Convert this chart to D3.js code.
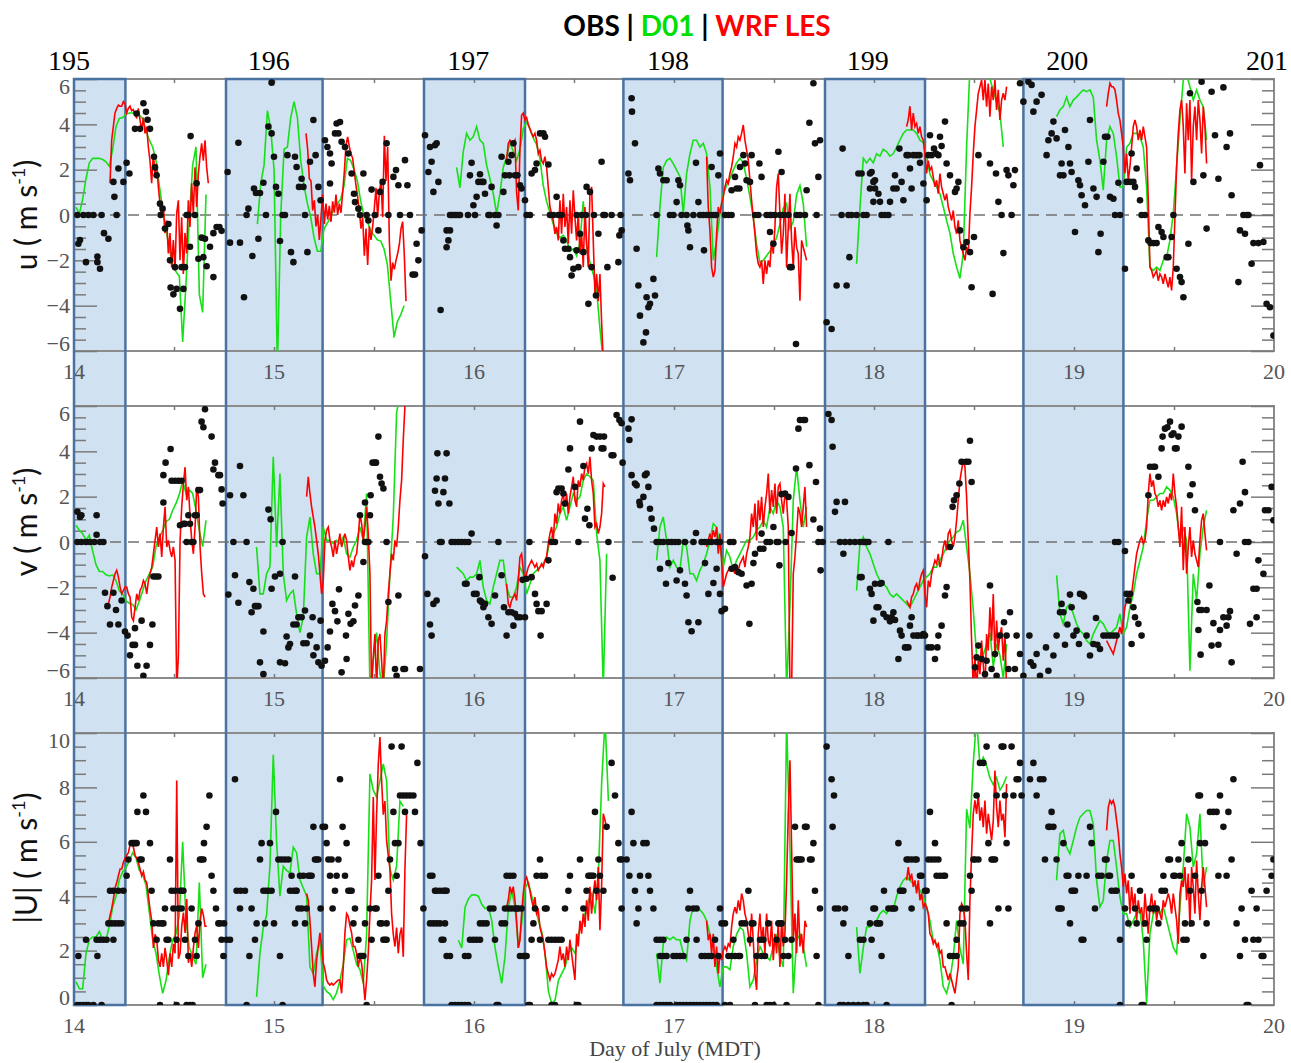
<!DOCTYPE html>
<html>
<head>
<meta charset="utf-8">
<script src="https://cdn.jsdelivr.net/npm/d3@7"></script>
<style>
  body { margin: 0; background: #fff; }
  svg text { font-family: "Liberation Serif", serif; }
</style>
</head>
<body>
<svg id="chart"></svg>
<script>
// ---- data -------------------------------------------------------------
// night periods (day of July, MDT)
var nights = [[14.0, 14.257], [14.76, 15.243], [15.75, 16.255], [16.747, 17.243], [17.755, 18.255], [18.747, 19.247]];
var dayTicks = [14, 15, 16, 17, 18, 19, 20];
var doyTicks = [195, 196, 197, 198, 199, 200, 201];

// model output: [start time, values], D01 every 24 min, LES every 12 min
var D01_STEP = 1 / 60, LES_STEP = 1 / 120;

// observations [time, value]
var obsU = [
[14.017,0],[14.047,0],[14.072,0],[14.097,0],[14.138,0],[14.022,-1.27],[14.03,-1.1],[14.06,-2.08],[14.117,-1.83],[14.117,-2.08],[14.13,-2.37],[14.15,-0.8],[14.172,-1.05],[14.197,1.46],[14.202,0.8],[14.213,0],[14.222,2.05],[14.247,1.46],[14.263,2.3],[14.277,1.83],[14.305,3.8],[14.313,4.48],[14.33,3.8],[14.347,4.93],[14.36,4.55],[14.368,4.2],[14.38,3.8],[14.4,2.57],[14.405,2.1],[14.413,1.75],[14.43,0.5],[14.433,0],[14.443,0.28],[14.455,-0.6],[14.472,-0.4],[14.48,-2.0],[14.483,-3.2],[14.497,-3.5],[14.505,-2.3],[14.513,-3.26],[14.53,-4.14],[14.538,-2.3],[14.547,-3.26],[14.555,-2.3],[14.563,0],[14.572,0],[14.58,-1.4],[14.583,3.48],[14.605,0],[14.613,1.4],[14.622,-1.93],[14.638,-1.0],[14.647,-1.86],[14.655,-1.05],[14.663,-2.26],[14.68,-1.4],[14.697,-2.74],[14.697,-0.8],[14.713,-0.53],[14.727,-0.53],[14.738,-0.7],
[14.768,1.9],[14.78,-1.22],[14.83,-1.22],[14.822,3.19],[14.85,-3.63],[14.863,0],[14.872,0.28],[14.892,-1.81],[14.9,1.17],[14.91,0.97],[14.922,-1.05],[14.93,0.97],[14.947,1.42],[14.96,0],[14.972,3.9],[14.988,3.6],[14.988,5.84],[15.0,2.57],[15.01,1.24],[15.022,0.94],[15.03,-1.15],[15.043,0],[15.055,0],[15.067,2.64],[15.085,-1.64],[15.097,-2.08],[15.105,2.57],[15.113,2.12],[15.125,1.24],[15.138,1.6],[15.147,1.24],[15.155,0],[15.167,-1.64],[15.18,2.35],[15.197,4.19],[15.208,2.64],[15.222,1.24],[15.233,0.65],
[15.255,3.3],[15.267,3.0],[15.28,2.71],[15.28,1.39],[15.288,2.27],[15.305,3.6],[15.313,4.04],[15.322,3.6],[15.33,4.1],[15.338,3.23],[15.355,3.0],[15.372,2.71],[15.388,1.83],[15.4,0.94],[15.405,0.57],[15.422,0.28],[15.43,0],[15.447,1.83],[15.463,0],[15.472,-0.24],[15.488,1.12],[15.505,0],[15.522,-0.68],[15.53,1.02],[15.543,1.46],[15.563,3.16],[15.572,0],[15.597,1.68],[15.61,1.98],[15.622,1.31],[15.63,0],[15.655,2.42],[15.667,1.31],[15.68,0],[15.693,-2.63],[15.705,-2.63],[15.713,-1.27],[15.722,-2.0],[15.738,-0.68],
[15.755,3.52],[15.772,1.9],[15.78,3.0],[15.788,2.35],[15.797,1.02],[15.813,3.16],[15.822,1.46],[15.833,-4.19],[15.863,-0.68],[15.872,-1.12],
[15.805,3.08],[15.863,-1.42],[15.88,-0.68],[15.88,0],[15.89,0],[15.9,0],[15.91,0],[15.92,0],[15.93,0],[15.97,0],[15.98,1.75],[15.988,2.3],[16.005,0],[15.997,0.43],[16.013,0.8],[16.022,1.46],[16.03,1.8],[16.038,1.46],[16.047,1.46],[16.055,0.94],[16.072,0],[16.08,0],[16.088,1.24],[16.105,0],[16.113,-0.46],[16.122,0],[16.138,2.57],[16.147,1.02],[16.155,1.75],[16.172,2.35],[16.177,1.75],[16.188,2.64],[16.197,3.16],[16.205,1.75],[16.217,1.75],[16.23,1.31],[16.238,1.17],[16.255,0.65],[16.263,0],[16.28,0],
[16.288,1.83],[16.305,1.98],[16.313,2.27],[16.33,3.6],[16.347,3.6],[16.355,3.45],[16.372,2.23],[16.38,0],[16.397,0],[16.413,0.8],[16.422,0],[16.438,0],[16.447,-1.12],[16.455,-1.49],[16.472,-1.49],[16.48,-1.86],[16.488,-2.67],[16.497,-2.37],[16.513,0],[16.513,-1.56],[16.522,-2.3],[16.53,-0.83],[16.538,0],[16.547,-1.64],[16.56,0],[16.563,1.24],[16.572,-3.92],[16.58,1.02],[16.588,-2.3],[16.6,0],[16.61,-3.55],[16.622,-0.83],[16.638,2.35],[16.647,0],[16.655,0],[16.667,-2.3],[16.688,0],[16.722,-2.08],[16.727,-0.9],[16.733,0],[16.738,-0.68],
[16.772,1.83],[16.78,1.53],[16.788,5.15],[16.79,4.56],[16.805,3.16],[16.813,-1.49],[16.822,-3.11],[16.83,-4.44],[16.847,-5.62],[16.86,-5.18],[16.863,-3.63],[16.872,-4.07],[16.88,-3.92],[16.897,-2.82],[16.905,-3.55],[16.913,0],[16.922,2.05],[16.93,1.83],[16.947,1.53],[16.963,1.53],[16.98,0],[16.997,0],[17.013,0.57],[17.022,1.53],[17.03,1.31],[17.038,0],[17.063,0],[17.067,-0.46],[17.072,-0.68],[17.08,-1.42],[17.097,0],[17.11,2.3],[17.122,0.57],[17.13,0],[17.147,0],[17.15,-1.56],[17.163,0],[17.18,0],[17.188,2.12],[17.197,0],[17.21,0],[17.222,1.75],[17.23,2.71],
[17.255,0],[17.272,0],[17.288,0],[17.288,1.09],[17.305,1.68],[17.313,1.17],[17.327,1.17],[17.33,2.12],[17.347,2.64],[17.355,2.27],[17.363,1.53],[17.38,1.46],[17.388,2.64],[17.405,0],[17.422,0],[17.427,2.27],[17.438,1.68],[17.463,0],[17.48,0],[17.48,-0.75],[17.488,0],[17.497,-1.27],[17.505,0],[17.522,2.79],[17.53,0],[17.538,1.9],[17.547,0],[17.572,0],[17.58,-2.3],[17.588,-2.3],[17.61,-5.69],[17.613,0],[17.63,0],[17.655,0],[17.663,1.09],[17.677,4.07],[17.697,5.81],[17.705,3.16],[17.713,0],[17.722,1.68],[17.73,3.3],
[17.763,-4.73],[17.788,-5.03],[17.813,-3.11],[17.838,0],[17.843,2.93],[17.863,-3.11],[17.872,0],[17.877,-1.86],[17.888,0],[17.913,0],[17.922,1.83],[17.947,0],[17.963,0],[17.98,1.83],[17.988,1.9],[17.997,1.46],[18.005,1.17],
[17.938,1.83],[17.98,1.17],[17.997,0.58],[18.005,1.53],[18.022,0.94],[18.03,0.58],[18.038,0],[18.055,0],[18.072,0],[18.08,0.58],[18.097,1.17],[18.105,1.75],[18.113,1.17],[18.127,2.93],[18.138,1.46],[18.147,0.65],[18.163,2.64],[18.172,2.64],[18.18,2.05],[18.188,1.17],[18.197,2.64],[18.213,2.64],[18.227,2.64],[18.23,2.3],[18.247,1.39],
[18.263,0.65],[18.272,2.64],[18.28,3.52],[18.288,2.64],[18.3,2.93],[18.31,2.71],[18.322,2.64],[18.33,3.45],[18.338,3.04],[18.355,4.12],[18.363,2.27],[18.38,1.75],[18.405,1.02],[18.413,1.17],[18.422,1.46],[18.43,-0.68],[18.447,-1.42],[18.463,-1.19],[18.48,-1.64],[18.488,-3.19],[18.5,-0.97],[18.522,2.64],[18.58,2.27],[18.593,-3.48],[18.61,1.83],[18.622,0.58],[18.638,0],[18.647,-1.68],[18.663,1.98],[18.672,1.75],[18.688,0],[18.697,1.31],[18.705,1.98],[18.73,5.81],[18.747,5.0],
[18.772,5.88],[18.788,5.74],[18.797,4.56],[18.813,5.0],[18.838,5.3],[18.863,2.64],[18.872,3.3],[18.888,3.6],[18.897,4.12],[18.913,3.38],[18.93,1.75],[18.938,2.27],[18.947,1.75],[18.955,3.75],[18.972,3.0],[18.98,2.27],[18.988,1.9],[19.005,-0.75],[19.022,1.53],[19.03,1.31],[19.038,0.87],[19.055,0.43],[19.072,2.35],[19.08,4.19],[19.097,1.17],[19.113,0.8],[19.122,-1.64],[19.133,-0.83],[19.147,2.35],[19.155,3.45],[19.167,3.45],[19.18,0.8],[19.197,0.72],[19.205,0],[19.222,1.42],[19.23,0],
[19.255,-2.37],[19.263,1.46],[19.28,1.46],[19.288,2.71],[19.297,1.46],[19.305,1.24],[19.313,2.05],[19.33,0.65],[19.338,0],[19.355,0],[19.372,-1.12],[19.383,-1.24],[19.397,-1.24],[19.413,-1.24],[19.422,-0.53],[19.438,-0.75],[19.447,-0.97],[19.463,-1.86],[19.472,-1.86],[19.488,-0.97],[19.497,0],[19.513,-2.37],[19.53,-2.74],[19.538,-2.96],[19.547,-3.63],[19.572,-1.27],[19.58,5.37],[19.597,1.46],[19.638,5.88],[19.647,1.75],[19.663,-0.6],[19.688,5.44],[19.705,3.52],[19.722,1.6],[19.747,5.63],[19.763,3.0],[19.78,3.6],[19.788,0.87],[19.822,-2.96],[19.83,-0.68],[19.847,0],[19.855,-0.83],[19.863,0],[19.872,0],[19.888,-2.15],[19.897,-1.24],[19.922,-1.24],[19.93,2.2],[19.947,-1.19],[19.963,-3.92],[19.98,-4.07],[19.997,-5.32]
];

var obsV = [
[14.017,1.33],[14.03,1.1],[14.037,1.18],[14.017,0],[14.037,0],[14.06,0],[14.08,0],[14.102,0],[14.13,0],[14.147,0],[14.113,1.18],[14.113,0.32],
[14.155,-2.24],[14.167,-2.83],[14.18,-3.64],[14.197,-2.24],[14.21,-3.0],[14.222,-3.64],[14.238,-2.58],[14.255,-3.95],[14.268,-4.13],[14.28,-5.0],[14.293,-4.54],[14.305,-4.54],[14.317,-5.46],[14.305,-3.8],[14.338,-3.47],[14.347,-5.9],[14.363,-5.46],[14.38,-4.54],[14.392,-3.64],
[14.397,-1.52],[14.41,-1.52],[14.422,-1.52],[14.447,1.74],[14.447,2.95],[14.458,3.5],[14.483,4.1],[14.488,2.7],[14.505,2.7],[14.522,2.7],[14.538,2.7],[14.53,0.74],[14.547,0.8],[14.555,0.8],[14.563,0],[14.572,1.18],[14.58,0.8],[14.588,0],[14.597,0],[14.605,1.18],[14.613,1.18],[14.622,2.29],[14.63,2.29],
[14.638,5.31],[14.647,5.06],[14.655,5.86],[14.688,4.65],[14.697,3.2],[14.705,3.5],[14.722,2.95],[14.73,2.95],[14.738,2.32],[14.743,1.7],
[14.772,-2.32],[14.78,2.06],[14.797,0],[14.805,-1.47],[14.822,-2.68],[14.83,3.35],[14.847,2.06],[14.863,0],[14.877,-1.77],[14.888,-3.1],[14.897,-2.06],[14.905,-2.83],[14.913,-2.83],[14.922,-2.83],[14.93,-5.31],[14.947,-3.95],[14.947,-5.83],[14.972,1.43],[14.983,1.0],[14.988,-2.06],[15.005,-1.52],[15.03,-1.4],[15.043,0],[15.03,-5.31],[15.055,-5.35],[15.063,-4.17],[15.072,-4.65],[15.08,-4.5],[15.097,-3.64],[15.105,-1.52],[15.113,-3.64],[15.122,-3.32],[15.138,-3.32],[15.147,-4.47],[15.155,-3.02],[15.163,-4.47],[15.18,-4.13],[15.193,-3.32],[15.197,-5.0],[15.213,-4.65],[15.222,-5.31],[15.233,-3.47],[15.238,-5.46],
[15.255,-5.24],[15.268,-4.65],[15.28,-3.95],[15.292,-2.73],[15.305,-3.05],[15.317,-3.5],[15.325,-2.09],[15.338,-5.75],[15.36,-4.13],[15.363,-5.16],[15.372,-3.17],[15.383,-3.61],[15.397,-3.5],[15.405,-2.8],[15.422,-2.36],[15.43,1.18],[15.447,-0.88],[15.455,1.74],[15.455,0],[15.463,0],[15.472,0],[15.48,1.18],[15.483,2.06],[15.493,3.5],[15.51,3.5],[15.505,3.5],[15.522,4.65],[15.53,2.88],[15.538,2.58],[15.547,2.36],[15.563,0],[15.572,-2.65],[15.605,-5.6],[15.613,-5.9],[15.622,-2.36],[15.647,-5.6],[15.655,-5.6],
[15.73,-5.6],[15.755,-0.63],[15.767,-2.29],[15.78,-3.64],[15.788,-4.13],[15.797,-2.73],[15.813,-2.58],[15.805,2.26],[15.813,2.8],[15.822,1.7],[15.817,3.91],[15.83,0],
[15.838,0],[15.847,2.2],[15.855,2.8],[15.863,3.91],[15.877,1.7],[15.888,0],[15.905,0],[15.922,0],[15.938,0],[15.955,0],[15.972,0],[15.988,0.37],[15.955,-1.84],[15.963,-1.84],[16.0,-2.29],[16.013,-2.29],[16.027,-1.55],[16.03,-2.58],[16.038,-2.65],[16.047,-2.88],[16.055,-2.73],[16.072,-3.32],[16.088,-3.61],[16.105,-2.36],[16.122,0],[16.138,-1.47],[16.15,-2.88],[16.163,-4.13],[16.172,-3.1],[16.188,-3.1],[16.197,-3.69],[16.205,-3.17],[16.217,-3.32],[16.23,-3.32],[16.243,-1.67],[16.255,-3.32],[16.263,-1.62],[16.277,0],[16.288,-1.55],
[16.305,-2.29],[16.313,-2.73],[16.322,-3.05],[16.338,-3.05],[16.333,-4.13],[16.363,-2.73],[16.372,-0.81],[16.388,0],[16.405,0],[16.413,2.2],[16.422,2.36],[16.438,2.36],[16.447,2.14],[16.455,1.7],[16.472,3.2],[16.48,4.13],[16.505,2.43],[16.522,0],[16.53,5.31],[16.547,3.35],[16.555,1.03],[16.567,1.47],[16.577,0.74],[16.588,4.13],[16.597,4.72],[16.613,4.65],[16.63,4.65],[16.638,4.13],[16.647,4.13],[16.65,4.65],[16.672,0],[16.693,-1.58],[16.688,3.83],[16.697,3.83],[16.713,5.6],[16.727,5.38],[16.738,5.24],[16.743,3.5],
[16.772,5.0],[16.777,4.5],[16.788,5.41],[16.788,2.95],[16.805,2.58],[16.813,2.5],[16.827,1.77],[16.83,1.62],[16.847,1.99],[16.855,2.95],[16.863,3.02],[16.872,2.43],[16.88,1.47],[16.888,1.03],[16.9,0.59],[16.913,0],[16.93,0],[16.947,0],[16.972,0],[16.988,0],[17.005,0],[17.022,0],[17.055,0],[17.097,0],[17.138,0],[17.155,0],[17.172,0],[17.188,0],[17.213,0],[17.23,0],[16.93,-1.18],[16.972,-0.93],[16.96,-1.84],[17.013,-1.7],[17.03,-1.25],[17.055,-1.84],[17.063,-2.36],[17.072,-3.54],[17.088,-3.94],[17.122,-3.54],[17.11,0.4],[17.155,-0.93],[17.172,-2.29],[17.197,-1.81],[17.213,-1.18],[17.23,-2.29],[17.238,-3.05],
[17.255,-2.95],[17.28,0],[17.297,0],[17.288,-1.18],[17.305,-1.11],[17.322,-1.33],[17.338,-1.4],[17.363,-1.92],[17.377,-3.61],[17.388,-1.84],[17.397,-0.93],[17.405,-0.52],[17.43,-0.3],[17.438,0.37],[17.447,-0.3],[17.463,0],[17.48,0],[17.497,0.66],[17.513,0],[17.522,0],[17.527,-1.03],[17.538,2.11],[17.555,2.14],[17.558,0],[17.572,1.99],[17.588,0.4],[17.61,3.24],[17.622,5.0],[17.63,5.38],[17.647,5.38],[17.655,5.38],[17.677,3.39],[17.697,0.99],[17.71,2.65],[17.722,0],[17.73,0.59],[17.733,-1.25],[17.743,0],
[17.772,5.65],[17.788,5.38],[17.793,4.2],[17.805,1.33],[17.813,1.77],[17.855,1.77],[17.83,0],[17.855,0],[17.88,0],[17.905,0],[17.93,0],[17.955,0],[17.972,0],[17.847,-0.52],[17.93,-1.55],[17.98,-2.06],[17.988,-2.29],[17.997,-3.47],[18.013,-2.88],
[17.947,0],[17.963,0],[17.938,-1.55],[18.005,-1.84],[18.022,-2.88],[18.03,-1.84],[18.038,-1.81],[18.047,-3.17],[18.063,-3.32],[18.072,0],[18.08,-3.5],[18.088,-3.32],[18.097,-3.1],[18.105,-3.44],[18.122,-5.16],[18.13,-3.91],[18.138,-4.13],[18.155,-4.65],[18.163,-4.65],[18.172,-4.65],[18.18,-3.69],[18.188,-3.32],[18.197,-4.13],[18.213,-4.13],[18.222,-4.13],[18.238,-4.13],[18.247,-4.06],[18.255,-4.13],
[18.272,-4.65],[18.288,-4.65],[18.305,-5.16],[18.317,-4.65],[18.322,-4.13],[18.338,-3.69],[18.355,-2.36],[18.363,-1.99],[18.38,-0.22],[18.393,1.55],[18.4,1.84],[18.413,2.06],[18.427,2.58],[18.438,3.54],[18.46,3.54],[18.472,3.54],[18.48,4.47],[18.488,2.65],[18.505,-5.53],[18.513,-5.09],[18.522,-4.57],[18.538,-5.16],[18.555,-5.83],[18.563,-5.24],[18.58,-1.92],[18.588,-5.6],[18.605,-4.94],[18.613,-5.9],[18.63,-4.13],[18.65,-3.54],[18.663,-4.13],[18.68,-3.1],[18.672,-5.6],[18.705,-5.6],[18.713,-4.13],[18.73,-4.94],
[18.747,-5.9],[18.777,-4.13],[18.783,-5.31],[18.797,-5.46],[18.813,-4.94],[18.83,-5.9],[18.86,-4.65],[18.872,-5.68],[18.897,-5.01],[18.913,-4.13],[18.93,-3.1],[18.938,-2.73],[18.947,-3.1],[18.955,-4.53],[18.967,-3.64],[18.98,-2.32],[18.988,-2.88],[18.997,-4.13],[19.013,-3.91],[19.025,-4.5],[19.03,-2.29],[19.043,-2.32],[19.05,-2.4],[19.063,-4.13],[19.08,-5.01],[19.097,-4.5],[19.11,-3.35],[19.117,-4.53],[19.13,-4.72],[19.147,-4.13],[19.163,-4.13],[19.18,-4.13],[19.197,-4.13],[19.205,0],[19.222,0],[19.213,-4.13],
[19.255,-0.4],[19.263,-2.29],[19.272,-2.58],[19.28,-2.29],[19.297,-2.88],[19.305,-3.32],[19.322,-3.61],[19.288,-4.5],[19.338,-4.13],[19.372,2.06],[19.38,3.32],[19.397,3.32],[19.405,3.32],[19.422,2.88],[19.438,4.13],[19.443,4.65],[19.455,5.0],[19.467,5.06],[19.48,5.31],[19.488,4.72],[19.497,4.8],[19.505,4.13],[19.513,4.13],[19.522,4.65],[19.538,5.09],[19.572,3.32],[19.593,2.55],[19.58,2.06],[19.605,1.4],[19.617,-2.65],[19.622,-3.88],[19.627,-3.0],[19.638,-3.0],[19.663,-3.0],[19.633,-4.97],[19.677,-1.92],[19.688,-4.57],[19.697,-3.58],[19.722,-4.53],[19.73,0],[19.73,-3.88],[19.747,-3.32],[19.763,-3.69],[19.772,-3.32],[19.78,-3.05],[19.788,-5.31],[19.797,1.4],[19.813,-0.52],[19.83,1.7],[19.843,3.54],[19.855,2.2],[19.855,0],[19.872,0],[19.88,-3.61],[19.897,-2.06],[19.913,-2.06],[19.913,-3.32],[19.922,-0.81],[19.947,-1.4],[19.955,1.4],[19.972,1.4],[19.988,2.43],[19.997,0.96]
];

var obsSpd = [
[14.022,1.8],[14.017,0],[14.03,0],[14.047,0],[14.06,0],[14.072,0],[14.097,0],[14.138,0],[14.06,2.4],[14.117,1.8],[14.113,2.4],[14.13,2.4],[14.147,2.4],[14.163,2.4],[14.197,2.4],[14.172,3.0],[14.188,3.0],[14.205,3.0],[14.222,3.0],[14.238,3.0],[14.18,4.2],[14.197,4.2],[14.222,4.2],[14.247,4.2],[14.263,4.75],[14.272,5.35],[14.288,5.95],[14.297,5.95],[14.305,5.95],[14.313,5.95],[14.317,7.1],[14.33,5.35],[14.338,5.35],[14.347,7.7],[14.36,7.1],[14.38,5.95],[14.388,4.2],[14.397,3.0],[14.413,2.4],[14.422,3.0],[14.43,0],[14.438,3.0],[14.447,3.0],[14.455,3.55],[14.463,2.4],[14.472,2.4],[14.48,5.35],[14.488,4.2],[14.497,3.55],[14.505,4.2],[14.513,2.4],[14.513,0],[14.522,3.55],[14.53,4.2],[14.538,4.2],[14.547,4.2],[14.538,3.55],[14.555,2.4],[14.563,0],[14.572,1.8],[14.58,0],[14.588,3.55],[14.593,0],[14.605,2.4],[14.613,1.8],[14.622,3.0],[14.63,5.35],[14.638,5.35],[14.647,5.35],[14.65,5.95],[14.663,6.55],[14.677,7.7],[14.688,4.75],[14.697,4.2],[14.71,3.55],[14.722,3.0],[14.73,3.0],[14.738,2.4],[14.747,1.8],[14.75,3.0],[14.763,2.4],[14.78,2.4],
[14.805,8.3],[14.813,4.2],[14.83,3.55],[14.833,4.2],[14.855,4.2],[14.863,0],[14.877,1.8],[14.888,3.55],[14.905,2.4],[14.913,3.0],[14.93,5.35],[14.938,5.95],[14.947,4.2],[14.955,3.0],[14.96,4.2],[14.972,4.2],[14.98,5.95],[14.988,4.2],[15.0,3.0],[15.01,7.1],[15.022,5.35],[15.03,1.8],[15.038,5.35],[15.043,0],[15.055,5.35],[15.072,5.35],[15.08,4.2],[15.088,4.75],[15.097,4.2],[15.105,3.0],[15.11,4.2],[15.113,4.2],[15.122,3.55],[15.13,4.75],[15.138,3.55],[15.147,4.75],[15.155,3.0],[15.163,3.55],[15.172,4.75],[15.18,4.75],[15.188,4.75],[15.197,6.55],[15.205,5.35],[15.213,5.35],[15.222,5.35],[15.233,3.55],[15.243,6.55],
[15.255,6.55],[15.263,5.95],[15.272,5.35],[15.28,4.75],[15.288,5.35],[15.293,3.55],[15.305,4.2],[15.313,4.75],[15.322,5.35],[15.33,8.3],[15.343,6.55],[15.355,4.75],[15.363,5.95],[15.372,4.2],[15.38,4.2],[15.388,4.2],[15.397,3.0],[15.405,3.55],[15.422,2.4],[15.43,1.8],[15.438,1.8],[15.447,1.8],[15.455,3.0],[15.463,0],[15.48,3.55],[15.488,2.4],[15.505,3.55],[15.513,3.55],[15.522,4.75],[15.53,3.0],[15.538,3.0],[15.547,2.4],[15.555,2.4],[15.563,3.0],[15.563,2.4],[15.572,4.2],[15.58,5.35],[15.588,9.5],[15.597,7.1],[15.605,5.95],[15.613,4.75],[15.622,5.95],[15.63,7.7],[15.638,9.5],[15.647,7.7],[15.655,7.1],[15.663,7.7],[15.68,7.7],[15.697,7.7],[15.705,7.1],[15.717,8.9],[15.733,5.95],[15.747,3.55],
[15.78,4.75],[15.792,4.75],[15.805,4.2],[15.813,4.2],[15.83,4.2],[15.847,4.2],[15.863,4.2],[15.78,3.0],[15.797,3.0],[15.813,3.0],[15.838,2.4],[15.863,1.8],
[15.83,3.0],[15.855,3.0],[15.847,2.4],[15.855,4.2],[15.88,1.8],[15.888,0],[15.905,0],[15.922,0],[15.938,0],[15.955,0],[15.972,0],[15.955,1.8],[15.972,1.8],[15.98,2.4],[15.997,2.4],[16.013,2.4],[16.03,2.4],[16.03,3.0],[16.047,3.0],[16.063,3.0],[16.08,3.55],[16.097,3.55],[16.105,2.4],[16.113,0],[16.122,0],[16.138,3.0],[16.155,3.0],[16.155,3.55],[16.172,3.55],[16.163,4.75],[16.18,4.75],[16.188,3.55],[16.197,4.75],[16.205,3.55],[16.213,3.55],[16.222,3.55],[16.23,1.8],[16.238,3.55],[16.247,1.8],[16.255,1.8],[16.263,1.8],[16.272,0],[16.28,0],
[16.297,3.0],[16.305,3.55],[16.313,4.75],[16.33,5.35],[16.338,4.75],[16.355,4.75],[16.355,3.55],[16.363,3.55],[16.288,2.4],[16.33,2.4],[16.372,2.4],[16.388,2.4],[16.405,2.4],[16.422,2.4],[16.438,2.4],[16.388,0],[16.405,0],[16.455,3.55],[16.472,4.2],[16.48,4.75],[16.513,0],[16.522,0],[16.53,5.35],[16.547,3.55],[16.563,4.2],[16.572,4.75],[16.58,4.75],[16.588,4.75],[16.597,4.75],[16.605,7.1],[16.613,4.2],[16.622,5.35],[16.63,4.75],[16.647,4.2],[16.663,6.55],[16.688,8.9],[16.705,7.7],[16.722,5.95],[16.73,5.35],[16.738,5.35],[16.738,3.55],
[16.763,5.35],[16.777,4.75],[16.788,7.1],[16.797,5.95],[16.805,4.2],[16.813,3.0],[16.822,3.55],[16.83,4.75],[16.847,5.95],[16.863,5.95],[16.872,4.75],[16.88,4.2],[16.897,3.55],[16.913,2.4],[16.93,2.4],[16.947,2.4],[16.93,1.8],[16.947,1.8],[16.963,1.8],[16.997,1.8],[17.013,1.8],[17.03,1.8],[17.047,1.8],
[16.913,0],[16.93,0],[16.947,0],[16.963,0],[16.98,0],[17.013,0],[17.03,0],[17.047,0],[17.063,0],[17.08,0],[17.097,0],[17.113,0],[17.13,0],[17.147,0],[17.163,0],[17.18,0],[17.197,0],[17.213,0],
[17.063,2.4],[17.072,3.55],[17.08,4.2],[17.097,3.55],[17.113,3.55],[17.113,2.4],[17.138,1.8],[17.155,1.8],[17.172,1.8],[17.188,1.8],[17.205,2.4],[17.222,1.8],[17.23,3.55],[17.238,3.0],
[17.255,3.0],[17.255,0],[17.272,1.8],[17.28,0],[17.288,1.8],[17.297,2.4],[17.305,1.8],[17.322,1.8],[17.33,1.8],[17.338,3.0],[17.355,3.0],[17.372,4.2],[17.38,2.4],[17.388,3.0],[17.397,3.0],[17.405,0],[17.413,1.8],[17.43,2.4],[17.438,1.8],[17.447,2.4],[17.455,1.8],[17.463,0],[17.472,3.0],[17.48,0],[17.497,0],[17.513,2.4],[17.522,3.0],[17.53,3.0],[17.538,3.0],[17.547,1.8],[17.555,2.4],[17.563,0],[17.572,1.8],[17.588,2.4],[17.605,6.55],[17.613,5.35],[17.622,5.35],[17.63,5.35],[17.638,5.35],[17.655,6.55],[17.663,6.55],[17.68,5.35],[17.688,5.35],[17.697,5.95],[17.705,4.2],[17.713,1.8],[17.722,0],[17.73,3.55],
[17.763,9.5],[17.788,8.3],[17.8,7.7],[17.793,6.55],[17.805,3.55],[17.822,3.55],[17.847,3.0],[17.855,3.55],[17.872,1.8],[17.83,0],[17.847,0],[17.872,0],[17.897,0],[17.922,0],[17.947,0],[17.963,0],[17.93,2.4],[17.947,2.4],[17.98,3.0],[17.988,2.4],[17.997,3.55],[18.013,3.0],
[18.005,3.55],[18.022,3.0],[18.03,3.0],[18.038,1.8],[18.05,4.2],[18.063,0],[18.072,3.55],[18.088,3.55],[18.097,3.55],[18.105,3.55],[18.122,5.95],[18.13,4.2],[18.138,4.2],[18.147,4.2],[18.163,5.35],[18.172,5.35],[18.188,5.35],[18.205,5.35],[18.213,5.35],[18.188,3.55],[18.23,4.75],[18.238,4.75],[18.255,4.2],
[18.263,4.2],[18.272,5.35],[18.288,5.35],[18.305,5.35],[18.322,5.35],[18.28,7.1],[18.305,5.95],[18.313,4.75],[18.33,4.75],[18.347,4.75],[18.355,4.75],[18.363,3.0],[18.38,1.8],[18.397,1.8],[18.413,1.8],[18.388,0],[18.413,2.4],[18.43,3.0],[18.438,3.55],[18.447,3.0],[18.463,3.55],[18.48,4.75],[18.488,4.2],[18.497,5.35],[18.505,5.35],[18.522,5.35],[18.513,7.7],[18.53,8.9],[18.547,8.9],[18.563,9.5],[18.58,3.0],[18.572,5.95],[18.588,5.35],[18.597,5.35],[18.605,5.35],[18.613,7.7],[18.622,3.55],[18.638,9.5],[18.647,9.5],[18.655,7.7],[18.663,5.95],[18.672,3.55],[18.688,9.5],[18.697,7.7],[18.713,8.3],[18.722,8.3],[18.73,8.9],[18.738,7.7],
[18.78,8.3],[18.797,8.9],[18.813,7.7],[18.83,8.3],[18.847,8.3],[18.855,5.35],[18.872,6.55],[18.88,6.55],[18.888,7.1],[18.897,6.55],[18.913,5.35],[18.922,3.55],[18.93,3.55],[18.938,3.55],[18.947,5.95],[18.963,4.75],[18.972,4.75],[18.98,3.0],[18.988,4.2],[18.997,4.2],[19.005,4.2],[19.022,4.75],[19.038,2.4],[19.047,2.4],[19.063,4.75],[19.08,6.55],[19.088,5.95],[19.105,3.55],[19.122,4.75],[19.138,4.75],[19.155,5.35],[19.163,5.35],[19.172,4.75],[19.18,4.75],[19.188,4.2],[19.205,4.2],[19.213,4.2],[19.23,0],[19.23,2.4],
[19.255,3.55],[19.272,3.0],[19.288,4.75],[19.305,3.55],[19.313,3.0],[19.33,4.2],[19.338,0],[19.347,0],[19.355,3.0],[19.363,2.4],[19.38,3.55],[19.397,3.55],[19.413,3.55],[19.422,3.0],[19.438,4.2],[19.447,4.75],[19.455,4.2],[19.472,5.35],[19.48,5.35],[19.497,4.75],[19.505,4.75],[19.522,5.35],[19.53,4.75],[19.538,5.95],[19.547,2.4],[19.555,3.0],[19.563,2.4],[19.572,5.35],[19.58,4.2],[19.588,3.0],[19.605,4.75],[19.622,7.7],[19.63,7.7],[19.63,5.95],[19.638,4.2],[19.647,1.8],[19.655,5.95],[19.663,3.0],[19.68,7.1],[19.697,7.1],[19.713,7.1],[19.722,4.75],[19.73,7.7],[19.747,6.55],[19.763,4.75],[19.772,7.1],[19.788,5.35],[19.797,8.3],[19.813,3.0],[19.83,1.8],[19.838,3.55],[19.855,2.4],[19.863,0],[19.872,0],[19.888,4.2],[19.897,2.4],[19.913,3.55],[19.922,2.4],[19.938,1.8],[19.947,1.8],[19.963,4.2],[19.988,4.75],[19.997,5.35]
];

// D01 (green) runs
var d01U = [
[14.01, [0.35,0.05,0.7,1.6,2.3,2.5,2.5,2.5,2.45,2.35,2.15,2.9,3.9,4.26,4.3,4.45,4.5,4.5,4.45,4.4,4.25,3.7,3.3,3.0,2.4,1.3,0.25,-0.6,-1.5,-2.2,-2.5,-2.7,-5.6,-3.0,-0.2,2.2,3.0,-3.5,-4.3,0.9]],
[14.917, [-0.4,1.4,2.2,4.6,3.8,2.0,-6.8,0.0,2.9,3.0,4.3,5.0,4.3,2.4,1.3,0.5,-0.1,-1.0,-1.6,-1.6,-0.6,-0.35,-0.1,0.35,0.5,0.7,1.3,2.5,2.4,2.0,1.5,0.6,-0.05,-0.3,-0.7,-0.9,-1.1,-1.15,-1.5,-2.2,-3.8,-5.4,-4.7,-4.4,-4.0]],
[15.913, [2.1,1.2,2.8,3.6,3.3,3.45,3.9,3.3,3.16,2.2,1.6,0.94,0.06,0.94,2.1,2.57,3.2,2.8,2.4,2.9,3.8,4.1,3.8,3.4,3.1,2.5,1.3,0.6,0.1,-0.4,-0.8,-1.0,-0.9,-1.1,-1.6,-1.5,-1.8,-1.2,0.6,-1.4,-2.1,-2.6,-3.3,-5.0,-6.5]],
[16.913, [-1.86,0.35,2.1,2.4,2.5,2.27,1.98,1.7,0.06,1.83,2.7,3.3,3.3,3.0,3.16,2.71,1.24,-2.0,-1.12,0.06,0.94,1.3,1.6,1.98,2.3,2.5,2.3,1.6,0.8,-0.1,-1.3,-2.1,-2.0,-1.8,-1.6,-1.3,-1.0,-0.4,0.3,0.5,-0.6,-0.3,0.9,1.3,0.5,-1.4]],
[17.913, [-2.15,0.3,2.5,2.3,2.5,2.3,2.7,2.6,2.9,2.8,2.6,2.7,3.0,3.3,3.6,3.75,3.75,3.75,3.6,3.3,3.2,2.6,1.8,1.5,1.24,0.94,0.35,-0.24,-0.8,-1.7,-2.3,-2.8,-1.7,3.0,6.5,6.5,6.2,6.5,6.3,6.5,6.0,5.5,5.0,4.5,3.0]],
[18.913, [4.34,4.63,4.78,5.2,4.78,5.07,5.2,5.37,5.52,5.44,5.52,5.2,3.3,2.42,1.1,3.3,3.9,3.6,2.57,1.24,1.24,2.99,3.16,3.6,3.6,3.45,3.0,1.24,-2.3,-2.45,-2.3,-2.45,-2.0,-1.86,-1.12,0.06,2.12,4.19,5.95,6.2,5.66,5.07,5.52,5.07,4.78,3.3]]
];
var d01V = [
[14.01, [0.74,0.52,0.37,0.07,0.3,-0.4,-1.0,-1.3,-1.3,-1.45,-1.5,-1.45,-1.7,-2.15,-2.3,-2.6,-2.7,-2.75,-3.0,-2.6,-2.15,-1.7,-1.4,-1.1,-0.2,0.2,0.5,0.9,1.0,1.4,1.7,2.1,2.7,2.14,2.3,2.14,1.4,0.5,-0.2,0.95]],
[14.913, [-0.22,-2.29,-2.29,-1.4,-1.1,3.76,-0.22,3.02,-1.4,-2.58,-2.29,-2.14,-3.17,-4.0,-3.32,0.22,1.1,-0.52,-1.4,-1.4,0.66,0.07,0.07,-0.07,0.07,-0.07,0.22,-0.52,-0.66,-0.22,0.07,0.66,0.07,2.14,-6.5,-5.2,-4.0,-5.8,-6.5,-4.4,-1.4,1.1,5.7,6.5,6.5]],
[15.913, [-1.11,-1.25,-1.4,-1.7,-1.55,-1.55,-1.4,-0.81,-1.99,-2.58,-2.73,-1.99,-1.4,-0.81,-0.81,-1.99,-2.43,-2.43,-1.99,-1.11,-1.4,-2.29,-1.84,-1.4,-1.25,-1.11,-0.96,-0.66,0.07,0.37,0.66,1.25,1.55,0.96,1.55,2.14,1.84,1.99,2.72,3.0,2.88,2.72,0.37,-0.81,-6.5,-0.52]],
[16.913, [-0.81,0.66,1.1,0.07,-1.11,-0.81,-1.11,-1.25,0.07,-0.22,-1.4,-1.4,-1.7,-1.25,-0.96,-0.52,0.07,0.81,0.66,-0.22,-1.11,-0.37,-0.66,-1.25,-0.81,-0.52,-0.22,0.07,0.07,0.22,0.52,0.66,0.96,0.66,1.55,1.25,1.84,1.55,0.66,-6.5,-2.88,1.84,3.3,1.84,0.66,1.55]],
[17.913, [-2.14,-0.07,0.22,-0.22,-0.52,-0.96,-1.4,-1.7,-1.84,-1.99,-2.29,-2.43,-2.29,-2.43,-2.58,-2.73,-2.88,-2.58,-2.29,-1.99,-1.7,-1.55,-1.4,-1.11,-1.11,-0.81,-0.52,-0.22,0.07,0.22,0.44,0.52,0.96,-0.22,-1.4,-3.0,-5.0,-5.5,-5.0,-4.5,-4.0,-5.5,-4.5,-5.0,-6.0,-4.5]],
[18.913, [-1.47,-3.17,-3.61,-2.88,-2.73,-3.17,-3.61,-3.91,-4.06,-4.35,-4.5,-4.06,-3.76,-3.47,-3.61,-3.91,-4.06,-3.91,-3.76,-3.17,-4.06,-3.76,-2.88,-2.29,-1.4,-0.81,-0.22,0.96,1.84,1.84,1.99,2.14,2.14,2.43,2.29,1.99,1.25,0.07,0.66,0.07,-5.68,-1.4,-2.58,-0.52,0.66,1.4]]
];
var d01Spd = [
[14.01, [0.86,0.6,0.6,1.9,2.4,2.5,2.5,2.7,2.4,2.4,2.9,3.6,4.0,4.6,4.9,5.05,5.3,5.6,5.4,4.95,4.8,4.4,3.4,2.4,1.9,1.1,0.43,0.9,1.75,2.4,2.6,3.3,6.0,3.1,2.1,1.8,1.5,4.5,1.0,1.5]],
[14.913, [0.3,1.9,2.85,3.3,5.1,9.2,6.0,4.0,5.1,4.95,4.85,5.8,5.6,4.6,4.3,4.0,1.4,1.15,1.9,2.35,0.7,0.5,0.4,0.2,0.45,0.9,1.5,2.4,2.45,2.0,1.5,1.3,0.8,2.6,8.5,7.9,7.65,8.25,8.86,8.25,5.0,4.6,5.1,7.5,7.3]],
[15.922, [2.38,2.1,3.6,3.9,4.05,4.05,4.0,3.7,3.55,3.6,3.1,2.1,1.4,0.8,1.8,3.6,4.2,3.6,2.1,3.0,4.3,4.5,4.0,3.65,3.1,2.7,1.9,0.5,0.06,0.18,0.9,1.15,1.4,1.9,2.1,1.9,2.6,3.0,3.36,3.85,4.1,3.36,4.8,8.25,10.5,7.5]],
[16.913, [1.9,0.8,2.25,2.5,2.4,2.5,2.4,2.4,1.9,1.65,3.1,3.6,3.6,3.5,3.36,3.1,2.6,2.15,1.4,0.67,1.4,1.4,1.3,2.15,2.6,2.85,2.75,1.9,0.67,0.92,1.65,2.15,1.9,1.77,1.65,2.15,2.6,1.77,1.4,10.5,5.8,0.43,2.38,2.6,2.15,1.4]],
[17.913, [2.87,1.16,2.1,2.87,2.87,3.0,3.1,3.36,3.48,3.36,3.6,3.5,4.0,4.35,4.58,4.7,4.58,4.46,4.35,4.22,4.0,3.6,3.1,2.38,2.25,1.65,0.67,0.43,0.92,1.77,3.1,2.1,1.5,7.2,6.5,8.9,10.5,8.8,9.1,8.8,8.35,8.1,8.35,7.9,8.1,8.4]],
[18.913, [4.58,6.3,6.42,5.8,5.56,6.05,6.54,6.9,7.03,7.15,7.15,6.66,4.58,3.6,3.85,5.31,6.05,6.05,5.07,3.97,3.36,3.36,2.87,3.1,3.36,3.48,2.38,0.06,2.62,3.36,3.48,3.36,3.6,3.12,2.62,2.12,1.9,3.6,5.07,7.03,6.54,5.07,5.56,7.03,4.34,5.07]]
];

// WRF LES (red) runs
var lesU = [
[14.18, [1.4,3.3,3.9,4.5,4.7,4.85,4.8,4.8,5.0,4.9,4.5,4.7,4.8,4.6,4.65,4.4,4.3,4.7,4.2,3.75,4.3,3.6,3.9,3.0,2.4,1.4,2.7,1.8,2.27,1.24,0.5,-0.1,0.35,-0.8,-0.24,-1.7,-0.8,-2.3,-1.1,-2.45,0.06,0.65,-2.0,-0.1,-2.6,-0.8,-1.7,0.65,-0.53,1.4,0.06,2.1,0.35,1.8,2.57,3.16,2.4,3.3,2.1,1.4]],
[15.16, [3.6,2.9,1.6,1.5,0.2,0.65,-0.5,0.0,-1.1,-0.1,0.9,-0.4,0.5,-0.2,0.4,-0.3,0.6,0.1,0.9,0.0,0.5,0.1,1.0,1.9,3.1,3.45,3.0,2.7,2.5,1.9,1.3,0.8,0.2,-0.6,-0.1,-1.8,-0.6,-2.2,-0.5,-1.1,-0.5,0.3,1.2,-0.1,1.0,1.5,-0.1,3.5,1.5,3.0,-1.1,-2.9,-2.1,-2.4,-2.0,-1.7,-1.3,-0.6,-0.3,-1.8,-3.8]],
[16.163, [2.4,3.16,3.3,3.2,3.16,3.3,1.0,0.2,2.86,4.4,4.5,4.2,4.3,4.0,3.8,3.6,3.45,3.6,3.3,2.7,2.86,2.4,2.27,2.57,2.1,1.24,0.35,0.06,-0.24,-0.83,-0.53,-1.12,0.65,-0.83,0.94,-0.53,0.35,-1.27,0.65,-0.83,1.09,-0.1,-1.12,0.06,-1.71,-0.83,-2.3,0.35,-1.12,-2.3,0.94,1.24,-1.12,-3.5,-2.6,-3.8,-2.6,-4.7,-6.5]],
[17.163, [2.57,0.35,-0.68,-2.3,-2.74,-2.45,-0.83,0.35,0.06,0.5,0.8,1.24,1.53,1.39,1.83,2.12,2.57,3.16,3.0,3.45,3.3,3.6,3.97,3.3,2.86,2.42,1.53,0.65,-0.1,-0.83,-1.71,-2.15,-2.3,-2.0,-3.04,-2.0,-2.6,-2.0,-2.3,-1.12,-1.71,-0.53,1.24,1.83,0.06,-1.71,-0.83,0.94,-2.3,-0.53,0.94,-1.12,-2.3,-0.53,-1.42,-1.71,-3.78,-1.12,-1.42,-1.71,-2.0]],
[18.163, [3.9,4.2,4.8,3.75,4.5,3.9,4.04,3.6,3.9,3.45,3.3,2.71,1.83,2.4,1.98,2.12,1.68,1.24,1.53,0.94,1.83,1.24,0.94,0.65,0.94,0.35,0.06,-0.24,0.2,-0.53,-0.83,-0.24,-1.12,-1.42,-1.71,-2.0,-1.42,-1.71,0.06,1.24,2.71,3.9,4.63,5.37,5.66,5.95,5.07,5.95,4.78,5.8,4.34,5.66,5.07,5.95,4.63,5.52,4.19,5.07,5.37,5.07,5.66]],
[19.163, [4.78,5.37,5.81,5.66,5.66,5.52,5.07,4.48,4.19,3.6,3.0,1.83,2.71,1.53,2.12,3.0,3.9,4.19,3.9,3.3,3.75,3.3,3.9,3.45,3.0,0.65,-2.3,-2.45,-2.74,-2.6,-2.45,-2.9,-2.6,-2.74,-3.04,-2.6,-2.9,-3.19,-2.74,-3.33,-2.3,-0.1,2.12,3.6,4.63,5.07,3.9,1.83,4.93,3.3,5.07,1.53,3.9,4.78,3.3,5.07,4.19,2.71,4.78,3.9,2.27]]
];
var lesV = [
[14.172, [-2.73,-2.43,-1.99,-1.7,-1.4,-1.25,-1.55,-1.99,-2.29,-2.14,-1.99,-1.99,-2.29,-2.43,-3.32,-3.47,-2.88,-2.29,-2.58,-2.14,-1.99,-1.7,-1.84,-2.29,-1.7,-1.4,-1.11,-0.52,0.07,0.66,-0.22,0.37,-0.66,0.66,1.55,-0.22,0.07,-0.37,-0.66,-0.22,-0.81,-6.5,-5.0,0.07,1.55,2.58,3.3,1.84,2.43,1.11,0.07,-0.52,0.66,2.43,1.99,-0.22,-1.4,-2.29,-2.43]],
[15.163, [2.0,2.88,2.14,1.55,1.1,0.66,0.07,-0.52,-1.4,-2.29,-1.7,0.07,0.52,0.66,0.07,-0.22,-0.66,0.07,-0.52,-0.07,0.37,-0.22,0.07,0.37,0.07,-0.66,-1.25,-0.81,-1.11,-0.66,-0.52,0.22,1.25,0.81,0.07,0.66,1.55,0.37,-1.4,-6.5,-5.09,-4.06,-6.5,-4.35,-4.06,-5.24,-6.5,-4.06,-3.47,-2.29,-1.4,-0.52,-0.81,0.07,-0.22,0.66,1.84,2.72,4.5,6.0,6.5]],
[16.163, [-1.84,-2.73,-2.88,-2.58,-2.43,-2.29,-2.58,-1.7,-0.66,-0.52,-1.25,-1.7,-1.4,-1.11,-0.96,-0.81,-0.96,-1.11,-0.96,-1.25,-1.11,-0.96,-1.11,-0.81,-0.66,-0.07,0.37,0.66,0.07,1.25,0.81,1.7,1.25,1.84,2.14,1.55,2.14,1.25,1.99,2.43,2.88,1.84,1.55,2.72,2.43,3.02,2.72,3.32,3.47,3.02,3.76,2.72,2.14,0.66,0.81,0.37,0.66,1.25,2.58,2.43]],
[17.163, [-0.22,0.07,0.37,0.07,0.52,0.22,0.66,-0.52,0.37,-0.81,-1.99,-1.7,-1.4,-1.25,-1.11,-1.25,-1.11,-1.4,-1.11,-1.25,-0.96,-0.81,-0.66,-1.11,-0.52,-0.22,0.22,1.25,0.66,1.7,0.07,1.84,0.96,1.99,0.66,1.55,2.14,3.02,1.25,2.29,1.55,2.58,1.25,2.43,2.58,1.84,1.25,2.14,1.84,0.66,-6.5,-6.5,-1.4,-0.66,0.37,1.55,1.25,0.66,1.55,2.43,0.66]],
[18.163, [-2.58,-2.73,-2.88,-2.43,-2.29,-1.99,-1.84,-2.14,-1.7,-1.4,-1.25,-2.29,-2.88,-1.7,-1.99,-1.4,-1.11,-0.81,-0.96,-0.52,-1.11,-0.81,-0.22,0.07,-0.37,0.37,0.52,0.07,-0.22,0.22,0.96,1.84,2.72,3.17,3.61,3.32,1.99,0.07,-1.7,-4.35,-6.5,-5.09,-6.5,-5.24,-5.83,-4.35,-5.38,-6.5,-4.06,-4.79,-2.88,-4.35,-2.29,-5.09,-3.47,-4.79,-4.06,-3.76,-5.24,-4.06,-6.5]],
[19.163, [-4.35,-4.5,-4.65,-4.79,-4.94,-4.65,-4.35,-4.06,-3.76,-4.06,-3.47,-2.88,-2.58,-2.43,-2.73,-2.29,-1.7,-1.11,-0.52,-0.22,0.07,0.22,-0.07,0.07,0.66,2.14,3.02,2.43,2.72,2.14,1.99,1.55,1.84,1.4,1.84,1.55,1.99,1.7,2.14,1.84,3.02,2.14,1.55,0.66,-0.22,1.55,-1.25,0.66,-1.4,-0.22,0.66,-0.66,0.07,-0.52,-0.81,-1.11,0.07,0.96,1.25,0.37,-0.37]]
];
var lesSpd = [
[14.172, [3.0,3.3,3.55,3.9,4.3,4.5,4.75,5.0,5.0,5.25,5.4,5.5,5.6,5.9,6.0,5.8,5.5,5.4,5.25,5.0,4.75,4.9,4.6,4.5,4.0,3.5,3.1,2.1,2.6,2.4,1.65,1.4,1.9,1.4,2.1,1.65,1.1,1.9,1.4,2.25,1.9,8.25,1.7,1.9,2.9,3.4,2.65,3.9,1.55,1.9,1.4,2.1,2.65,2.9,2.1,3.1,3.55,3.3,2.9,2.9]],
[15.163, [4.1,3.85,3.1,2.15,1.15,0.67,1.65,2.15,2.65,2.15,1.55,1.3,0.92,0.8,0.73,0.8,0.73,0.8,0.86,0.92,0.92,0.43,1.4,2.65,3.36,3.25,2.9,2.65,2.15,2.15,1.9,1.4,1.77,1.53,0.92,0.18,0.92,1.9,3.36,4.6,7.65,4.6,7.0,8.86,9.85,8.25,7.0,7.5,6.05,5.5,5.0,3.36,2.6,2.15,2.85,1.9,2.6,2.85,1.77,5.0,7.0]],
[16.163, [3.6,3.85,4.35,4.1,4.35,3.85,3.1,2.1,2.38,3.36,4.1,4.58,4.7,4.46,4.2,3.85,3.6,3.97,3.36,3.48,2.87,2.62,2.38,1.9,1.4,1.15,0.92,1.15,1.04,1.15,1.4,1.65,2.15,1.65,1.9,1.4,2.15,1.65,2.4,1.9,1.4,0.92,2.62,2.15,3.1,2.62,3.36,2.87,3.85,3.1,4.35,3.36,4.1,4.58,3.85,5.07,2.75,4.35,7.03,6.8,6.5]],
[17.163, [3.1,2.38,2.62,1.9,2.62,1.4,2.15,1.15,1.9,1.65,2.0,2.15,2.0,2.25,2.15,2.87,3.36,3.6,3.36,3.85,3.48,4.1,3.85,3.36,3.1,2.62,2.15,3.36,2.38,1.15,0.55,2.62,3.36,2.38,2.87,1.9,3.36,2.38,2.15,3.1,1.65,2.62,1.9,3.0,1.4,3.1,2.15,2.62,4.58,7.03,9.0,5.8,2.38,3.36,1.9,3.85,2.15,2.62,1.9,3.1,2.87]],
[18.163, [4.58,5.07,4.58,4.83,4.34,4.58,4.1,4.58,3.85,4.1,3.6,3.73,3.6,3.36,2.62,2.5,2.25,2.38,2.15,2.25,1.9,2.0,1.4,1.4,1.16,0.92,1.16,0.92,0.67,0.43,0.92,1.4,3.36,3.73,3.6,3.12,1.9,0.92,3.85,5.56,7.03,7.52,7.03,7.76,6.78,7.27,6.54,7.52,6.3,7.03,6.54,6.05,6.78,8.62,7.27,6.54,7.52,6.78,7.03,6.17,8.13]],
[19.163, [6.42,7.27,7.52,7.4,7.52,7.27,6.78,6.3,5.56,5.07,4.34,4.83,4.1,4.58,3.36,4.34,3.6,4.1,3.12,3.85,3.36,3.6,2.87,4.1,3.36,2.62,3.6,4.1,3.36,3.85,3.12,3.6,3.36,3.12,3.85,3.6,3.85,4.1,3.85,3.36,4.1,3.6,3.12,2.25,4.1,4.58,4.34,5.07,3.85,4.83,2.87,5.07,4.34,3.36,5.31,4.1,3.12,4.34,5.07,4.34,3.6]]
];

// ---- layout -----------------------------------------------------------
var width = 1291, height = 1063;
var svg = d3.select("#chart").attr("width", width).attr("height", height);

var x = d3.scaleLinear().domain([14, 20]).range([74, 1274]);
var xDoy = d3.scaleLinear().domain([195, 201]).range([69, 1267]);

var panels = [
  {id: "u", name: "u", domain: [-6, 6], top: 79, bottom: 351, obs: obsU, d01: d01U, les: lesU, zero: true, titleY: 215, major: [-6, -4, -2, 0, 2, 4, 6]},
  {id: "v", name: "v", domain: [-6, 6], top: 406, bottom: 678, obs: obsV, d01: d01V, les: lesV, zero: true, titleY: 522, major: [-6, -4, -2, 0, 2, 4, 6]},
  {id: "s", name: "|U|", domain: [0, 10], top: 733, bottom: 1005, obs: obsSpd, d01: d01Spd, les: lesSpd, zero: false, titleY: 858, major: [0, 2, 4, 6, 8, 10]}
];

var frameColor = "#8c8c8c", tickColor = "#7a7a7a", labelColor = "#555";
var boxTop = panels[0].top, boxBottom = panels[2].bottom;

// layer order: night fill, frames/axes, night outlines, data
var fillLayer = svg.append("g");
var axisLayer = svg.append("g");
var outlineLayer = svg.append("g");
var dataLayer = svg.append("g");

// night shading spans all three panels
function nightRects(layer) {
  return layer.selectAll("rect")
    .data(nights)
    .enter().append("rect")
      .attr("x", function(d) { return x(d[0]); })
      .attr("y", boxTop)
      .attr("width", function(d) { return x(d[1]) - x(d[0]); })
      .attr("height", boxBottom - boxTop);
}
nightRects(fillLayer).style("fill", "#d0e1f1");
nightRects(outlineLayer).style("fill", "none").style("stroke", "#4a72a0").style("stroke-width", 2.5);

// expand a run [t0, values] into points
function runPoints(run, step) {
  return run[1].map(function(v, i) { return [run[0] + i * step, v]; });
}

function styleAxis(sel) {
  sel.select(".domain").remove();
  sel.selectAll(".tick line").style("stroke", tickColor).style("stroke-width", 1.5);
}

panels.forEach(function(p) {
  var y = d3.scaleLinear().domain(p.domain).range([p.bottom, p.top]);
  var minor = d3.range(p.domain[0], p.domain[1] + 0.01, 0.5).filter(function(v) { return p.major.indexOf(v) < 0; });
  var g = axisLayer.append("g");

  // frame
  g.append("rect")
    .attr("x", x(14)).attr("y", p.top)
    .attr("width", x(20) - x(14)).attr("height", p.bottom - p.top)
    .style("fill", "none").style("stroke", frameColor).style("stroke-width", 2);

  // y ticks on both sides, pointing inward; end labels pulled inside
  g.append("g").attr("transform", "translate(" + x(14) + ",0)")
    .call(d3.axisLeft(y).tickValues(p.major).tickSize(-23).tickPadding(4).tickFormat(d3.format("d")))
    .call(styleAxis)
    .call(function(sel) {
      sel.selectAll("text")
        .style("font-family", "Liberation Serif, serif").style("font-size", "22px")
        .style("fill", labelColor)
        .attr("y", function(d) {
          if (d === p.domain[1]) return 7;
          if (d === p.domain[0]) return -8;
          return 0;
        });
    });
  g.append("g").attr("transform", "translate(" + x(14) + ",0)")
    .call(d3.axisLeft(y).tickValues(minor).tickSize(-12).tickFormat(""))
    .call(styleAxis);
  g.append("g").attr("transform", "translate(" + x(20) + ",0)")
    .call(d3.axisRight(y).tickValues(p.major).tickSize(-23).tickFormat(""))
    .call(styleAxis);
  g.append("g").attr("transform", "translate(" + x(20) + ",0)")
    .call(d3.axisRight(y).tickValues(minor).tickSize(-12).tickFormat(""))
    .call(styleAxis);

  // small x ticks every half day, top and bottom
  var halfDays = d3.range(14.5, 20, 0.5);
  g.append("g").attr("transform", "translate(0," + p.top + ")")
    .call(d3.axisTop(x).tickValues(halfDays).tickSize(-4).tickFormat(""))
    .call(styleAxis);
  g.append("g").attr("transform", "translate(0," + p.bottom + ")")
    .call(d3.axisBottom(x).tickValues(halfDays).tickSize(-4).tickFormat(""))
    .call(styleAxis);

  // day labels below each panel
  g.selectAll(".daylab")
    .data(dayTicks)
    .enter().append("text")
      .attr("class", "daylab")
      .attr("x", function(d) { return x(d); })
      .attr("y", p.bottom + 28)
      .attr("text-anchor", "middle")
      .style("font-size", "22px")
      .style("fill", labelColor)
      .text(function(d) { return d; });

  // y-axis title
  var t = g.append("text")
    .attr("transform", "translate(37," + p.titleY + ") rotate(-90)")
    .attr("text-anchor", "middle")
    .style("font-family", "Lato, sans-serif")
    .style("font-size", "30px")
    .style("fill", "#111");
  t.append("tspan").text(p.name + " ( m s");
  t.append("tspan").attr("dy", -12).style("font-size", "18px").text("-1");
  t.append("tspan").attr("dy", 12).text(")");

  // data, clipped to the plot box
  var clipId = "clip-" + p.id;
  svg.append("clipPath").attr("id", clipId)
    .append("rect")
      .attr("x", x(14)).attr("y", p.top)
      .attr("width", x(20) - x(14)).attr("height", p.bottom - p.top);
  var dg = dataLayer.append("g").attr("clip-path", "url(#" + clipId + ")");

  if (p.zero) {
    dg.append("line")
      .attr("x1", x(14)).attr("x2", x(20))
      .attr("y1", y(0)).attr("y2", y(0))
      .style("stroke", "#707070").style("stroke-width", 1.5)
      .style("stroke-dasharray", "11,7");
  }

  var line = d3.line()
    .x(function(d) { return x(d[0]); })
    .y(function(d) { return y(d[1]); });

  dg.selectAll(".d01")
    .data(p.d01)
    .enter().append("path")
      .attr("class", "d01")
      .attr("d", function(r) { return line(runPoints(r, D01_STEP)); })
      .style("fill", "none").style("stroke", "#16e016").style("stroke-width", 1.6);

  dg.selectAll(".les")
    .data(p.les)
    .enter().append("path")
      .attr("class", "les")
      .attr("d", function(r) { return line(runPoints(r, LES_STEP)); })
      .style("fill", "none").style("stroke", "#ff0000").style("stroke-width", 1.6);

  dg.selectAll("circle")
    .data(p.obs)
    .enter().append("circle")
      .attr("cx", function(d) { return x(d[0]); })
      .attr("cy", function(d) { return y(d[1]); })
      .attr("r", 3.3)
      .style("fill", "#111");
});

// top axis: day of year
svg.selectAll(".doy")
  .data(doyTicks)
  .enter().append("text")
    .attr("class", "doy")
    .attr("x", function(d) { return xDoy(d); })
    .attr("y", 70)
    .attr("text-anchor", "middle")
    .style("font-size", "28px")
    .style("fill", "#000")
    .text(function(d) { return d; });

// x label
svg.append("text")
  .attr("x", 675).attr("y", 1056)
  .attr("text-anchor", "middle")
  .style("font-size", "22px")
  .style("fill", "#444")
  .text("Day of July (MDT)");

// legend title
var title = svg.append("text")
  .attr("x", 697).attr("y", 36)
  .attr("text-anchor", "middle")
  .style("font-family", "Lato, sans-serif")
  .style("font-weight", "bold")
  .style("font-size", "28px");
title.append("tspan").style("fill", "#000").text("OBS | ");
title.append("tspan").style("fill", "#00e000").text("D01");
title.append("tspan").style("fill", "#000").text(" | ");
title.append("tspan").style("fill", "#ff0000").text("WRF LES");
</script>
</body>
</html>
